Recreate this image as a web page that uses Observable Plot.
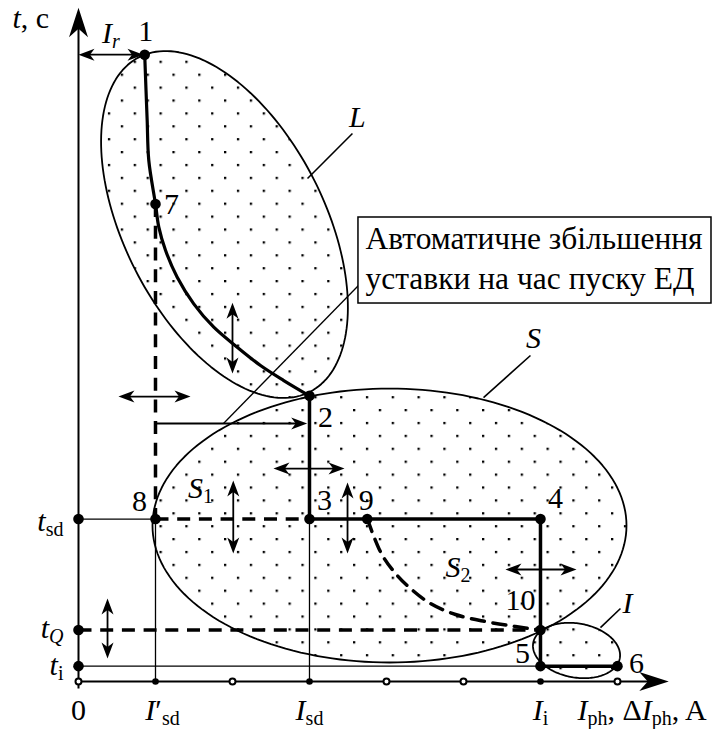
<!DOCTYPE html>
<html>
<head>
<meta charset="utf-8">
<script src="https://cdn.jsdelivr.net/npm/d3@7"></script>
<script src="https://cdn.jsdelivr.net/npm/@observablehq/plot@0.6"></script>
<style>
  body { margin: 0; background: #fff; }
  #chart svg, #chart svg text { font-family: "Liberation Serif", "DejaVu Serif", serif; }
</style>
</head>
<body>
<!-- dotted fill used inside the protection zones -->
<svg width="0" height="0" style="position:absolute">
  <defs>
    <pattern id="dots" patternUnits="userSpaceOnUse" x="4.2" y="8.6" width="25.8" height="25.8">
      <rect x="0" y="0" width="2.3" height="2.3" fill="#000"></rect>
      <rect x="12.9" y="12.9" width="2.3" height="2.3" fill="#000"></rect>
    </pattern>
  </defs>
</svg>
<div id="chart"></div>
<script>
// Current axis (I) in tick steps, time axis (t) in the same step size
const currentTicks = [0, 1, 2, 3, 4, 5, 6, 7];
const currentTickFilled = [false, true, false, true, false, false, true, false];
const currentTickLabels = ["0", "I′sd", "", "Isd", "", "", "Ii", ""];
const currentAxisTitle = "Iph, ΔIph, A";
const timeAxisTitle = "t, c";

const timeTickValues = [2.11, 0.67, 0.2];
const timeTickLabels = ["tsd", "tQ", "ti"];
const [tsd, tQ, ti] = timeTickValues;

// Numbered characteristic points
const pointNames = ["1", "7", "2", "8", "3", "9", "4", "10", "5", "6"];
const pointI = [0.86, 1, 3, 1, 3, 3.75, 6, 6, 6, 7];
const pointT = [8.14, 6.2, 3.71, tsd, tsd, tsd, tsd, tQ, ti, ti];

// Motor starting characteristic 1 – 7 – 2
const startI = [0.86, 0.877, 0.892, 0.913, 1.0, 1.043, 1.13, 1.282, 1.497, 1.757, 2.061, 2.364, 2.666, 3.0];
const startT = [8.14, 7.675, 7.286, 6.766, 6.2, 5.9, 5.6, 5.251, 4.905, 4.601, 4.342, 4.104, 3.909, 3.71];

// Dependent-time characteristic 9 – 10 (dashed)
const inverseI = [3.753, 3.831, 3.948, 4.117, 4.312, 4.571, 4.896, 5.286, 5.675, 6.0];
const inverseT = [tsd, 1.896, 1.636, 1.403, 1.208, 1.013, 0.87, 0.779, 0.714, tQ];

// Zones L, S, I (ellipses)
const zoneNames = ["L", "S", "I"];
const zoneCenterI = [1.896, 4.039, 6.468];
const zoneCenterT = [5.935, 2.026, 0.403];
const zoneSemiMajor = [2.44, 3.078, 0.571];
const zoneSemiMinor = [1.30, 1.779, 0.351];
const zoneTilt = [-63, 0, -10];
const zoneLeaderI = [[2.974, 3.558], [5.26, 5.87], [6.779, 7.039]];
const zoneLeaderT = [[6.532, 7.117], [3.688, 4.234], [0.701, 0.948]];

// Sub-zone labels
const subZoneNames = ["S1", "S2"];
const subZoneI = [1.584, 4.929];
const subZoneT = [2.377, 1.351];

// Note about the automatic setting increase
const noteText = "Автоматичне збільшення\nуставки на час пуску ЕД";
const noteBoxI = [3.636, 8.221];
const noteBoxT = [4.909, 6.026];
const noteLeaderI = [3.636, 1.883];
const noteLeaderT = [5.143, 3.351];
const noteArrow = [1, 3.351, 2.97, 3.351];

// Setting adjustment arrows (double-headed): [I1, t1, I2, t2]
const adjustArrows = [
  [0, 8.14, 0.844, 8.14],
  [0.519, 3.70, 1.455, 3.70],
  [2.0, 4.92, 2.0, 4.0],
  [2.532, 2.766, 3.455, 2.766],
  [2.01, 2.61, 2.01, 1.662],
  [3.494, 2.584, 3.494, 1.662],
  [5.545, 1.455, 6.468, 1.455],
  [0.377, 1.078, 0.377, 0.299]
];
const axisTipI = 7.666;
const axisTipT = 8.749;

// ---- derived tables ----
const points = pointNames.map((name, i) => ({name, I: pointI[i], t: pointT[i]}));
const startCurve = startI.map((I, i) => ({I, t: startT[i]}));
const inverseCurve = inverseI.map((I, i) => ({I, t: inverseT[i]}));
const ticks = currentTicks.map((I, i) => ({I, filled: currentTickFilled[i], label: currentTickLabels[i]}));
const timeTicks = timeTickValues.map((t, i) => ({t, label: timeTickLabels[i]}));

function zoneOutline(k) {
  const a = zoneSemiMajor[k], b = zoneSemiMinor[k];
  const r = zoneTilt[k] * Math.PI / 180, c = Math.cos(r), s = Math.sin(r);
  return d3.range(0, 360, 2).map(deg => {
    const u = deg * Math.PI / 180, ex = a * Math.cos(u), ey = b * Math.sin(u);
    return {zone: zoneNames[k], I: zoneCenterI[k] + ex * c - ey * s, t: zoneCenterT[k] + ex * s + ey * c};
  });
}
const zones = zoneNames.flatMap((_, k) => zoneOutline(k));
const zoneLeaders = zoneNames.map((zone, k) => ({zone, I1: zoneLeaderI[k][0], I2: zoneLeaderI[k][1], t1: zoneLeaderT[k][0], t2: zoneLeaderT[k][1]}));

const seg = (I1, t1, I2, t2) => ({I1, t1, I2, t2});
const thinLines = [seg(0, tsd, 1, tsd), seg(0, ti, 6, ti), seg(1, 0, 1, tsd), seg(3, 0, 3, tsd)];
const dashedLines = [seg(1, 6.2, 1, tsd), seg(1, tsd, 3, tsd), seg(0, tQ, 6, tQ)];
const thickLines = [seg(3, 3.71, 3, tsd), seg(3, tsd, 6, tsd), seg(6, tsd, 6, ti), seg(6, ti, 7, ti)];

// arrowheads: rotation clockwise from "pointing up"
const dirAngle = (dI, dt) => Math.atan2(dI, dt) * 180 / Math.PI;
const shafts = adjustArrows.map(([I1, t1, I2, t2]) => seg(I1, t1, I2, t2));
const heads = adjustArrows.flatMap(([I1, t1, I2, t2]) => [
  {I: I1, t: t1, rot: dirAngle(I1 - I2, t1 - t2)},
  {I: I2, t: t2, rot: dirAngle(I2 - I1, t2 - t1)}
]);
heads.push({I: noteArrow[2], t: noteArrow[3], rot: dirAngle(noteArrow[2] - noteArrow[0], noteArrow[3] - noteArrow[1])});
const axisHeads = [{I: 0, t: axisTipT, rot: 0}, {I: axisTipI, t: 0, rot: 90}];

const headSmall = {draw(ctx) { ctx.moveTo(0, 0); ctx.lineTo(6, 16); ctx.lineTo(0, 11.5); ctx.lineTo(-6, 16); ctx.closePath(); }};
const headAxis = {draw(ctx) { ctx.moveTo(0, 0); ctx.lineTo(9.5, 29.5); ctx.lineTo(0, 21); ctx.lineTo(-9.5, 29.5); ctx.closePath(); }};

// rich text runs: [text, italic, subscript]
const rich = {
  "t, c": [["t", 1], [", c"]],
  "Ir": [["I", 1], ["r", 1, 1]],
  "I′sd": [["I", 1], ["′"], ["sd", 0, 1]],
  "Isd": [["I", 1], ["sd", 0, 1]],
  "Ii": [["I", 1], ["i", 0, 1]],
  "Iph, ΔIph, A": [["I", 1], ["ph", 0, 1], [", Δ"], ["I", 1], ["ph", 0, 1], [", A"]],
  "tsd": [["t", 1], ["sd", 0, 1]],
  "tQ": [["t", 1], ["Q", 1, 1]],
  "ti": [["t", 1], ["i", 0, 1]],
  "S1": [["S", 1], ["1", 0, 1]],
  "S2": [["S", 1], ["2", 0, 1]],
  "L": [["L", 1]],
  "S": [["S", 1]],
  "I": [["I", 1]]
};

const FONT = "Liberation Serif, DejaVu Serif, serif";
const FS = 30;
const SUB = 20;
const txt = (data, opts) => Plot.text(data, {fontFamily: FONT, fontSize: FS, fill: "black", ...opts});

const pointLabelOffset = {
  "1": [1, -23], "7": [16, 0], "2": [16, 22], "8": [-16, -18], "3": [15, -19],
  "9": [-1, -19], "4": [15, -21], "10": [-20, -30], "5": [-18, -13], "6": [19, -3]
};
const zoneLabelOffset = {"L": [5, -6], "S": [3, -7], "I": [7, 4]};
const timeLabelDy = {"tsd": 12, "tQ": 8, "ti": 9};

const chart = Plot.plot({
  width: 716,
  height: 729,
  margin: 0,
  x: {domain: [-1.013, 8.286], axis: null},
  y: {domain: [-0.623, 8.844], axis: null},
  style: {background: "white", fontFamily: FONT},
  marks: [
    // zones
    Plot.line(zones, {x: "I", y: "t", z: "zone", curve: "linear-closed", fill: "url(#dots)", stroke: "black", strokeWidth: 1.8}),
    Plot.link(zoneLeaders, {x1: "I1", y1: "t1", x2: "I2", y2: "t2", stroke: "black", strokeWidth: 1.6}),
    // note box
    Plot.link([seg(noteLeaderI[0], noteLeaderT[0], noteLeaderI[1], noteLeaderT[1])], {x1: "I1", y1: "t1", x2: "I2", y2: "t2", stroke: "black", strokeWidth: 1.3}),
    Plot.rect([{I1: noteBoxI[0], I2: noteBoxI[1], t1: noteBoxT[0], t2: noteBoxT[1]}], {x1: "I1", x2: "I2", y1: "t1", y2: "t2", fill: "white", stroke: "black", strokeWidth: 1.5}),
    txt([{I: noteBoxI[0], t: noteBoxT[0], s: noteText}], {x: "I", y: "t", text: "s", fontSize: 31.5, textAnchor: "start", lineAnchor: "bottom", lineHeight: 1.27, dx: 7, dy: -15}),
    // guide lines
    Plot.link(thinLines, {x1: "I1", y1: "t1", x2: "I2", y2: "t2", stroke: "black", strokeWidth: 1.3}),
    Plot.link(dashedLines, {x1: "I1", y1: "t1", x2: "I2", y2: "t2", stroke: "black", strokeWidth: 3.5, strokeDasharray: "13,8.7"}),
    Plot.line(inverseCurve, {x: "I", y: "t", curve: "catmull-rom", stroke: "black", strokeWidth: 3.5, strokeDasharray: "13,8.7"}),
    // characteristic
    Plot.link(thickLines, {x1: "I1", y1: "t1", x2: "I2", y2: "t2", stroke: "black", strokeWidth: 3.5}),
    Plot.line(startCurve, {x: "I", y: "t", curve: "catmull-rom", stroke: "black", strokeWidth: 3.2}),
    // axes
    Plot.link([seg(0, -0.09, 0, 8.6), seg(0, 0, 7.45, 0)], {x1: "I1", y1: "t1", x2: "I2", y2: "t2", stroke: "black", strokeWidth: 2}),
    Plot.dot(axisHeads, {x: "I", y: "t", rotate: "rot", symbol: headAxis, fill: "black", stroke: "none"}),
    // adjustment arrows
    Plot.arrow(shafts, {x1: "I1", y1: "t1", x2: "I2", y2: "t2", stroke: "black", strokeWidth: 1.8, headLength: 0, insetStart: 6, insetEnd: 6}),
    Plot.arrow([seg(...noteArrow)], {x1: "I1", y1: "t1", x2: "I2", y2: "t2", stroke: "black", strokeWidth: 1.8, headLength: 0, insetEnd: 6}),
    Plot.dot(heads, {x: "I", y: "t", rotate: "rot", symbol: headSmall, fill: "black", stroke: "none"}),
    // axis markers
    Plot.dot(ticks, {x: "I", y: 0, r: d => d.filled ? 5.3 : 4.3, fill: d => d.filled ? "black" : "white", stroke: "black", strokeWidth: d => d.filled ? 0 : 2}),
    Plot.dot(timeTicks, {x: 0, y: "t", r: 5.3, fill: "black"}),
    Plot.dot(points, {x: "I", y: "t", r: 5.3, fill: "black"}),
    // labels
    ...points.map(p => txt([p], {x: "I", y: "t", text: "name", dx: pointLabelOffset[p.name][0], dy: pointLabelOffset[p.name][1]})),
    ...zoneLeaders.map(z => txt([z], {x: "I2", y: "t2", text: "zone", lineAnchor: "bottom", dx: zoneLabelOffset[z.zone][0], dy: zoneLabelOffset[z.zone][1]})),
    txt(subZoneNames.map((name, i) => ({name, I: subZoneI[i], t: subZoneT[i]})), {x: "I", y: "t", text: "name", lineAnchor: "bottom"}),
    txt(ticks.filter(d => d.label && d.I !== 1), {x: "I", y: 0, text: "label", lineAnchor: "bottom", dy: 38.5}),
    txt(ticks.filter(d => d.I === 1), {x: "I", y: 0, text: "label", lineAnchor: "bottom", dy: 38.5, dx: 7}),
    txt([{I: currentTicks[7], s: currentAxisTitle}], {x: "I", y: 0, text: "s", textAnchor: "start", lineAnchor: "bottom", dy: 38.5, dx: -40}),
    ...timeTicks.map(d => txt([d], {x: 0, y: "t", text: "label", textAnchor: "end", lineAnchor: "bottom", dx: -15, dy: timeLabelDy[d.label]})),
    txt([{s: timeAxisTitle}], {x: 0, y: axisTipT, text: "s", textAnchor: "start", lineAnchor: "bottom", dx: -66, dy: 20}),
    txt([{s: "Ir"}], {x: adjustArrows[0][2] / 2, y: adjustArrows[0][1], text: "s", lineAnchor: "bottom", dy: -12})
  ]
});

// italics and subscripts
const NS = "http://www.w3.org/2000/svg";
chart.querySelectorAll("text").forEach(el => {
  const runs = rich[el.textContent];
  if (!runs) return;
  el.textContent = "";
  let shift = 0;
  for (const [s, italic, sub] of runs) {
    const ts = document.createElementNS(NS, "tspan");
    const target = sub ? 5 : 0;
    if (target !== shift) ts.setAttribute("dy", target - shift);
    shift = target;
    if (italic) ts.setAttribute("font-style", "italic");
    if (sub) ts.setAttribute("font-size", SUB);
    ts.textContent = s;
    el.appendChild(ts);
  }
});

document.getElementById("chart").appendChild(chart);
</script>
</body>
</html>
